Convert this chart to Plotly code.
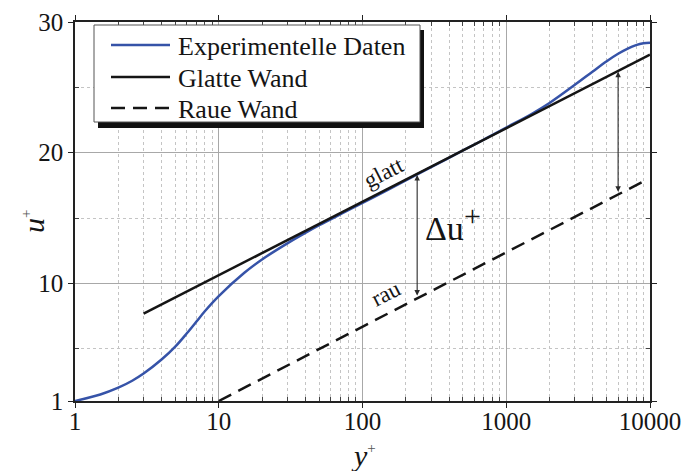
import math
import plotly.graph_objects as go

# ---- data ----
exp_yplus = [1, 1.5, 2, 2.5, 3, 4, 5, 6, 7, 8, 10, 15, 20, 30, 40, 50, 70, 100,
             150, 200, 300, 500, 700, 1000, 1500, 2000, 3000, 4000, 5000, 6000, 7000, 8000,
             9000, 10000]
exp_uplus = [1.0, 1.5, 2.02, 2.55, 3.1, 4.17, 5.18, 6.18, 7.08, 7.87, 9.03, 10.79, 11.83,
             13.06, 13.86, 14.45, 15.28, 16.15, 17.16, 17.88, 18.89, 20.17, 21.01, 21.92,
             22.96, 23.8, 25.19, 26.22, 27.0, 27.57, 27.97, 28.23, 28.37, 28.42]

glatt_yplus = [3, 10000]
glatt_uplus = [7.68, 27.5]

raue_yplus = [10, 9000]
raue_uplus = [1.0, 17.8]

arrow_yplus = [240, 6000]
arrow_top = [18.3, 26.2]
arrow_bottom = [8.95, 16.9]

series_names = ["Experimentelle Daten", "Glatte Wand", "Raue Wand"]

x_tickvals = [1, 10, 100, 1000, 10000]
x_ticktext = ["1", "10", "100", "1000", "10000"]
x_minor = [m * 10 ** d for d in range(4) for m in range(2, 10)]
y_tickvals = [1, 10, 20, 30]
y_ticktext = ["1", "10", "20", "30"]
y_minor = [5, 15, 25]

FONT = "Liberation Serif, Times New Roman, serif"
BLUE = "#3653a8"
INK = "#151515"
styles = [dict(color=BLUE, width=2.5), dict(color=INK, width=2.5),
          dict(color=INK, width=2.5, dash="14px,8px")]

fig = go.Figure()
fig.add_trace(go.Scatter(x=exp_yplus, y=exp_uplus, mode="lines", name=series_names[0],
                         line=dict(shape="spline", smoothing=1.0, **styles[0])))
fig.add_trace(go.Scatter(x=glatt_yplus, y=glatt_uplus, mode="lines", name=series_names[1],
                         line=styles[1]))
fig.add_trace(go.Scatter(x=raue_yplus, y=raue_uplus, mode="lines", name=series_names[2],
                         line=styles[2]))

W, H = 683, 471
L, R, T, B = 75, 33, 22, 70
pw, ph = W - L - R, H - T - B


def px(x):
    return (x - L) / pw


def py(y):
    return (H - B - y) / ph


annotations = []
for xp, yt, yb in zip(arrow_yplus, arrow_top, arrow_bottom):
    lx = math.log10(xp)
    annotations.append(dict(x=lx, y=yt, ax=lx, ay=yb, xref="x", yref="y", axref="x", ayref="y",
                            text="", showarrow=True, arrowhead=2, startarrowhead=2,
                            arrowside="end+start", arrowsize=1, arrowwidth=1.1,
                            arrowcolor="#2a2a2a", standoff=0, startstandoff=0))

annotations += [
    dict(x=math.log10(141), y=18.5, xref="x", yref="y", text="glatt", showarrow=False,
         textangle=-27, font=dict(family=FONT, size=23, color=INK)),
    dict(x=math.log10(146), y=9.25, xref="x", yref="y", text="rau", showarrow=False,
         textangle=-27, font=dict(family=FONT, size=23, color=INK)),
    dict(x=math.log10(262), y=14.6, xref="x", yref="y",
         text="Δu<sup><span style='font-size:30px'>+</span></sup>", showarrow=False,
         xanchor="left", yanchor="middle", font=dict(family=FONT, size=34, color=INK)),
    dict(x=px(33), y=py(222), xref="paper", yref="paper", textangle=-90,
         xanchor="center", yanchor="middle",
         text="<i>u</i><sup><span style='font-size:15px;color:#555'>+</span></sup>",
         showarrow=False, font=dict(family=FONT, size=30, color=INK)),
    dict(x=px(363), y=py(455), xref="paper", yref="paper", xanchor="center", yanchor="middle",
         text="<i>y</i><sup><span style='font-size:15px;color:#555'>+</span></sup>",
         showarrow=False, font=dict(family=FONT, size=30, color=INK)),
]

# legend box drawn as decoration (shadow, frame, samples, labels)
shapes = [
    dict(type="rect", xref="paper", yref="paper", x0=px(98), x1=px(424), y0=py(128), y1=py(30),
         fillcolor="#111111", line=dict(width=0), layer="above"),
    dict(type="rect", xref="paper", yref="paper", x0=px(94), x1=px(420), y0=py(122), y1=py(25),
         fillcolor="white", line=dict(color="#555555", width=1), layer="above"),
]
row_y = [45, 77, 108]
for name, st, ry in zip(series_names, styles, row_y):
    shapes.append(dict(type="line", xref="paper", yref="paper", x0=px(111), x1=px(170),
                       y0=py(ry), y1=py(ry), line=st, layer="above"))
    annotations.append(dict(x=px(176), y=py(ry + 1), xref="paper", yref="paper", text=name,
                            xanchor="left", yanchor="middle", showarrow=False,
                            font=dict(family=FONT, size=26, color=INK)))

axis_common = dict(showline=True, linecolor="#222222", linewidth=1.5, mirror="allticks",
                   ticks="outside", ticklen=5, tickcolor="#222222", tickwidth=1.2,
                   showgrid=True, gridcolor="#a8a8a8", gridwidth=1, zeroline=False,
                   automargin=False,
                   tickfont=dict(family=FONT, size=25, color=INK))

fig.update_layout(
    width=W, height=H, margin=dict(l=L, r=R, t=T, b=B),
    paper_bgcolor="white", plot_bgcolor="white",
    font=dict(family=FONT, size=24, color=INK),
    xaxis=dict(type="log", range=[0, 4], tickmode="array", tickvals=x_tickvals,
               ticktext=x_ticktext, ticklabelstandoff=-8,
               minor=dict(tickmode="array", tickvals=x_minor, ticks="inside", ticklen=4,
                          tickcolor="#444444", showgrid=True, gridcolor="#c4c4c4",
                          griddash="dot", gridwidth=1),
               **axis_common),
    yaxis=dict(range=[1, 30], tickmode="array", tickvals=y_tickvals, ticktext=y_ticktext,
               minor=dict(tickmode="array", tickvals=y_minor, ticks="inside", ticklen=4,
                          tickcolor="#444444", showgrid=True, gridcolor="#c4c4c4",
                          griddash="dot", gridwidth=1),
               **axis_common),
    showlegend=False,
    annotations=annotations, shapes=shapes,
)

fig.write_html("out.html")
